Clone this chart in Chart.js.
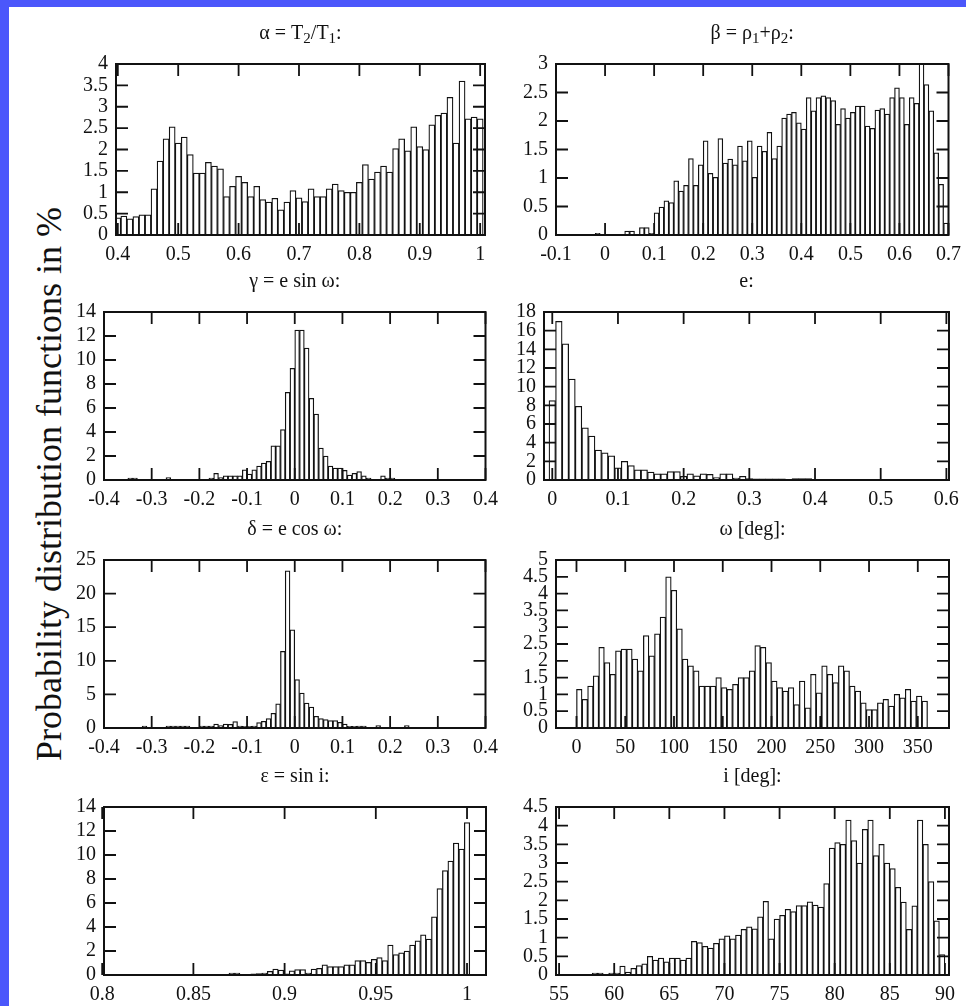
<!DOCTYPE html>
<html>
<head>
<meta charset="utf-8">
<script src="https://cdn.jsdelivr.net/npm/chart.js@4/dist/chart.umd.min.js"></script>
<style>
  body { margin: 0; width: 966px; height: 1006px; background: #4b57fb; position: relative; overflow: hidden; }
  #sheet { position: absolute; left: 9px; top: 7px; right: 0; bottom: 0; background: #fff; }
  canvas { position: absolute; }
  #ytitle {
    position: absolute; left: 49px; top: 484px;
    transform: translate(-50%, -50%) rotate(-90deg);
    font: 36px "Liberation Serif", "DejaVu Serif", serif;
    color: #111; white-space: nowrap;
  }
</style>
</head>
<body>
<div id="sheet"></div>
<div id="ytitle">Probability distribution functions in %</div>
<script>
// Histogram bins: value of each bin in percent, first bin centre and bin width

// alpha = T2/T1
const alphaFirstBin = 0.40, alphaBinWidth = 0.01;
const alphaValues = [0.40, 0.44, 0.38, 0.43, 0.47, 0.47, 1.08, 1.73, 2.25, 2.53,
  2.15, 2.29, 1.88, 1.45, 1.45, 1.70, 1.61, 1.55, 0.90, 1.14,
  1.37, 1.23, 0.90, 1.14, 0.83, 0.77, 0.86, 0.59, 0.77, 1.04,
  0.87, 0.78, 1.08, 0.90, 0.90, 1.08, 1.19, 1.04, 1.00, 1.00,
  1.23, 1.65, 1.31, 1.47, 1.61, 1.47, 2.02, 2.25, 1.97, 2.53,
  2.07, 2.00, 2.58, 2.80, 2.85, 3.22, 2.15, 3.60, 2.72, 2.76, 2.72];
const alphaXTicks = [0.4, 0.5, 0.6, 0.7, 0.8, 0.9, 1];
const alphaYTicks = [0, 0.5, 1, 1.5, 2, 2.5, 3, 3.5, 4];

// beta = rho1 + rho2
const betaFirstBin = -0.015, betaBinWidth = 0.01;
const betaValues = [0.03, 0, 0, 0, 0, 0, 0.07, 0.07, 0, 0.13, 0.13, 0.03,
  0.39, 0.49, 0.60, 0.57, 0.95, 0.77, 0.87, 1.34, 0.87, 1.23,
  1.65, 1.08, 1.01, 1.69, 1.26, 1.33, 1.23, 1.56, 1.30, 1.65,
  1.01, 1.56, 1.47, 1.80, 1.34, 1.56, 2.05, 2.12, 2.15, 1.97,
  1.86, 2.41, 2.18, 2.41, 2.44, 2.41, 2.36, 1.94, 2.22, 2.05,
  2.15, 2.26, 2.26, 1.91, 1.87, 2.19, 2.22, 2.12, 2.41, 2.58,
  2.41, 1.94, 2.41, 2.31, 3.00, 2.64, 2.18, 1.44, 0.89, 0.21];
const betaXTicks = [-0.1, 0, 0.1, 0.2, 0.3, 0.4, 0.5, 0.6, 0.7];
const betaYTicks = [0, 0.5, 1, 1.5, 2, 2.5, 3];

// gamma = e sin omega
const gammaFirstBin = -0.345, gammaBinWidth = 0.01;
const gammaValues = [0.15, 0.15, 0, 0, 0, 0, 0, 0, 0.2, 0,
  0, 0, 0, 0, 0, 0, 0, 0.15, 0.55, 0.2,
  0.35, 0.35, 0.35, 0.35, 0.85, 0.5, 0.85, 1.15, 1.4, 1.55,
  2.85, 2.85, 4.2, 7.3, 9.3, 12.5, 12.5, 11.0, 6.8, 5.5,
  2.65, 2.0, 1.15, 1.0, 1.0, 0.8, 0.4, 0.55, 0.7, 0.35,
  0.15, 0, 0, 0.35, 0.15, 0.15];
const gammaXTicks = [-0.4, -0.3, -0.2, -0.1, 0, 0.1, 0.2, 0.3, 0.4];
const gammaYTicks = [0, 2, 4, 6, 8, 10, 12, 14];

// e
const eccFirstBin = 0, eccBinWidth = 0.01;
const eccValues = [8.5, 17.0, 14.6, 10.8, 7.9, 5.6, 4.7, 3.2, 2.9, 2.6,
  1.3, 2.0, 1.55, 1.1, 1.1, 0.85, 0.65, 0.65, 0.9, 0.9,
  0.4, 0.65, 0.45, 0.65, 0.6, 0.25, 0.65, 0.65, 0.2, 0.4,
  0.15, 0.12, 0.12, 0.12, 0.12, 0.12, 0, 0.15, 0.15, 0.15];
const eccXTicks = [0, 0.1, 0.2, 0.3, 0.4, 0.5, 0.6];
const eccYTicks = [0, 2, 4, 6, 8, 10, 12, 14, 16, 18];

// delta = e cos omega
const deltaFirstBin = -0.315, deltaBinWidth = 0.01;
const deltaValues = [0.3, 0, 0, 0, 0, 0.3, 0.3, 0.3, 0.3, 0.3,
  0, 0, 0.3, 0.3, 0.3, 0.6, 0.35, 0.6, 0.55, 0.95,
  0.3, 0.25, 0.25, 0.3, 0.8, 1.0, 1.4, 2.2, 3.6, 11.4,
  23.4, 14.6, 7.2, 5.2, 3.7, 3.1, 1.75, 1.4, 1.25, 1.1,
  1.1, 0.85, 0.6, 0.25, 0.25, 0.3, 0.3, 0, 0, 0.35,
  0, 0, 0, 0, 0, 0.35];
const deltaXTicks = [-0.4, -0.3, -0.2, -0.1, 0, 0.1, 0.2, 0.3, 0.4];
const deltaYTicks = [0, 5, 10, 15, 20, 25];

// omega [deg], 63 bins over the full circle
const omegaBinWidth = 360 / 63, omegaFirstBin = omegaBinWidth / 2;
const omegaValues = [1.15, 0.85, 1.25, 1.55, 2.4, 1.95, 1.6, 2.3, 2.35, 2.35,
  2.05, 1.7, 2.75, 2.15, 2.8, 3.3, 4.5, 4.1, 2.95, 2.05,
  1.85, 1.7, 1.25, 1.25, 1.25, 1.5, 1.2, 1.15, 1.3, 1.5,
  1.5, 1.7, 2.45, 2.4, 1.95, 1.4, 1.2, 1.1, 1.2, 0.7,
  1.4, 0.6, 1.6, 1.05, 1.85, 1.6, 1.35, 1.85, 1.7, 1.25,
  1.1, 0.75, 0.55, 0.55, 0.75, 0.85, 0.65, 1.0, 0.9, 1.15,
  0.8, 0.95, 0.8];
const omegaXTicks = [0, 50, 100, 150, 200, 250, 300, 350];
const omegaYTicks = [0, 0.5, 1, 1.5, 2, 2.5, 3, 3.5, 4, 4.5, 5];

// epsilon = sin i
const epsFirstBin = 0.871, epsBinWidth = 0.003;
const epsValues = [0.15, 0.15, 0, 0, 0.1, 0.12, 0.15, 0.3, 0.5, 0.4,
  0.1, 0.35, 0.45, 0.45, 0.15, 0.5, 0.55, 0.85, 0.7, 0.7,
  0.7, 0.85, 0.85, 1.2, 1.2, 1.05, 1.3, 1.45, 1.2, 2.5,
  1.7, 1.85, 2.0, 2.5, 2.85, 3.35, 3.0, 4.85, 7.2, 8.7,
  9.5, 11.0, 10.5, 12.7];
const epsXTicks = [0.8, 0.85, 0.9, 0.95, 1];
const epsYTicks = [0, 2, 4, 6, 8, 10, 12, 14];

// i [deg]
const inclFirstBin = 58.25, inclBinWidth = 0.5;
const inclValues = [0.05, 0.05, 0, 0.05, 0.05, 0.24, 0.08, 0.18, 0.25, 0.3,
  0.5, 0.4, 0.45, 0.35, 0.45, 0.45, 0.4, 0.45, 0.9, 0.87,
  0.77, 0.72, 0.85, 0.97, 1.05, 0.97, 1.07, 1.22, 1.29, 1.24,
  1.56, 1.97, 0.97, 1.5, 1.6, 1.76, 1.7, 1.86, 1.86, 1.96,
  1.87, 1.82, 2.45, 3.4, 3.55, 3.5, 4.15, 3.6, 3.0, 3.9,
  4.15, 3.2, 3.5, 3.0, 2.85, 2.35, 1.95, 1.22, 1.85, 4.15,
  3.5, 2.5, 1.45, 0.55];
const inclXTicks = [55, 60, 65, 70, 75, 80, 85, 90];
const inclYTicks = [0, 0.5, 1, 1.5, 2, 2.5, 3, 3.5, 4, 4.5];

const FONT_FAMILY = '"Liberation Serif", "DejaVu Serif", serif';
const INK = '#111';
const TICK_LEN = 12;

function bins(first, width, values) {
  return values.map((y, i) => ({ x: first + i * width, y }));
}

// plot frames on the page: left, top, right, bottom of each plot box
const panels = [
  { title: 'α = T_2/T_1:', box: [116, 64, 485, 235], xMin: 0.397, xMax: 1.008,
    data: bins(alphaFirstBin, alphaBinWidth, alphaValues), xTicks: alphaXTicks, yTicks: alphaYTicks },
  { title: 'β = ρ_1+ρ_2:', box: [556, 64, 949, 235], xMin: -0.1, xMax: 0.7,
    data: bins(betaFirstBin, betaBinWidth, betaValues), xTicks: betaXTicks, yTicks: betaYTicks },
  { title: 'γ = e sin ω:', box: [104, 312, 486, 480], xMin: -0.4, xMax: 0.4,
    data: bins(gammaFirstBin, gammaBinWidth, gammaValues), xTicks: gammaXTicks, yTicks: gammaYTicks },
  { title: 'e:', box: [544, 312, 949, 480], xMin: -0.0126, xMax: 0.604,
    data: bins(eccFirstBin, eccBinWidth, eccValues), xTicks: eccXTicks, yTicks: eccYTicks },
  { title: 'δ = e cos ω:', box: [104, 560, 486, 728], xMin: -0.4, xMax: 0.4,
    data: bins(deltaFirstBin, deltaBinWidth, deltaValues), xTicks: deltaXTicks, yTicks: deltaYTicks },
  { title: 'ω [deg]:', box: [556, 560, 949, 728], xMin: -21, xMax: 382,
    data: bins(omegaFirstBin, omegaBinWidth, omegaValues), xTicks: omegaXTicks, yTicks: omegaYTicks },
  { title: 'ε = sin i:', box: [104, 807, 486, 975], xMin: 0.801, xMax: 1.0104,
    data: bins(epsFirstBin, epsBinWidth, epsValues), xTicks: epsXTicks, yTicks: epsYTicks },
  { title: 'i [deg]:', box: [556, 807, 949, 975], xMin: 54.72, xMax: 90.37,
    data: bins(inclFirstBin, inclBinWidth, inclValues), xTicks: inclXTicks, yTicks: inclYTicks }
];

// Title with "_x" marking a subscript character
function drawTitle(ctx, text, cx, cy) {
  const parts = text.split(/_(.)/);
  const fontOf = i => (i % 2 ? '15px ' : '20px ') + FONT_FAMILY;
  let total = 0;
  parts.forEach((p, i) => { ctx.font = fontOf(i); total += ctx.measureText(p).width; });
  let x = cx - total / 2;
  ctx.textAlign = 'left';
  ctx.textBaseline = 'middle';
  ctx.fillStyle = INK;
  parts.forEach((p, i) => {
    ctx.font = fontOf(i);
    ctx.fillText(p, x, cy + (i % 2 ? 5 : 0));
    x += ctx.measureText(p).width;
  });
}

// gnuplot-like frame: full box, inward ticks on all four sides, title above
const gnuplotFrame = {
  id: 'gnuplotFrame',
  afterDatasetsDraw(chart, args, opts) {
    const { ctx, chartArea: a, scales: { x, y } } = chart;
    ctx.save();
    ctx.strokeStyle = INK;
    ctx.lineWidth = 1.8;
    ctx.beginPath();
    x.ticks.forEach(t => {
      const px = x.getPixelForValue(t.value);
      ctx.moveTo(px, a.top); ctx.lineTo(px, a.top + TICK_LEN);
      ctx.moveTo(px, a.bottom); ctx.lineTo(px, a.bottom - TICK_LEN);
    });
    y.ticks.forEach(t => {
      const py = y.getPixelForValue(t.value);
      ctx.moveTo(a.left, py); ctx.lineTo(a.left + TICK_LEN, py);
      ctx.moveTo(a.right, py); ctx.lineTo(a.right - TICK_LEN, py);
    });
    ctx.stroke();
    ctx.lineWidth = 2;
    ctx.strokeRect(a.left, a.top, a.right - a.left, a.bottom - a.top);
    drawTitle(ctx, opts.text, (a.left + a.right) / 2, a.top - 30);
    ctx.restore();
  }
};

const PAD_LEFT = 70, PAD_TOP = 50, PAD_RIGHT = 20, PAD_BOTTOM = 35;
const tickFont = { family: FONT_FAMILY, size: 20 };

panels.forEach(p => {
  const [l, t, r, b] = p.box;
  const canvas = document.createElement('canvas');
  canvas.width = (r - l) + PAD_LEFT + PAD_RIGHT;
  canvas.height = (b - t) + PAD_TOP + PAD_BOTTOM;
  canvas.style.left = (l - PAD_LEFT) + 'px';
  canvas.style.top = (t - PAD_TOP) + 'px';
  document.body.appendChild(canvas);

  new Chart(canvas, {
    type: 'bar',
    data: {
      datasets: [{
        data: p.data,
        backgroundColor: '#ffffff',
        borderColor: INK,
        borderWidth: 1.25,
        borderSkipped: false,
        barPercentage: 1,
        categoryPercentage: 1
      }]
    },
    options: {
      responsive: false,
      animation: false,
      devicePixelRatio: 1,
      layout: { padding: { left: 0, top: PAD_TOP, right: PAD_RIGHT, bottom: 0 } },
      plugins: {
        legend: { display: false },
        tooltip: { enabled: false },
        gnuplotFrame: { text: p.title }
      },
      scales: {
        x: {
          type: 'linear',
          min: p.xMin,
          max: p.xMax,
          offset: false,
          grid: { display: false, drawTicks: false },
          border: { display: false },
          ticks: {
            autoSkip: false, maxRotation: 0, padding: 8,
            font: tickFont, color: INK,
            callback: v => String(v)
          },
          afterBuildTicks: s => { s.ticks = p.xTicks.map(v => ({ value: v })); },
          afterFit: s => { s.height = PAD_BOTTOM; }
        },
        y: {
          min: 0,
          max: p.yTicks[p.yTicks.length - 1],
          grid: { display: false, drawTicks: false },
          border: { display: false },
          ticks: {
            autoSkip: false, padding: 8,
            font: tickFont, color: INK,
            callback: v => String(v)
          },
          afterBuildTicks: s => { s.ticks = p.yTicks.map(v => ({ value: v })); },
          afterFit: s => { s.width = PAD_LEFT; }
        }
      }
    },
    plugins: [gnuplotFrame]
  });
});
</script>
</body>
</html>
